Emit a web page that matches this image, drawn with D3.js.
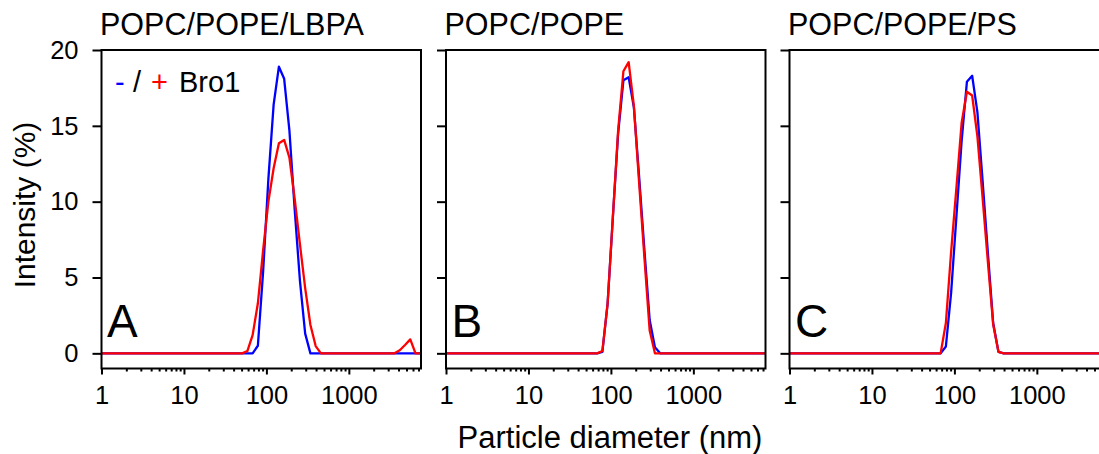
<!DOCTYPE html>
<html lang="en">
<head>
  <meta charset="UTF-8">
  <title>DLS size distributions</title>
  <script src="https://d3js.org/d3.v7.min.js"></script>
  <style>
  body{ margin:0; background:#fff; }
  svg{ display:block; }
  text{ font-family:"Liberation Sans", Arial, sans-serif; fill:#000; }
  .tick line{ stroke:#000; stroke-width:2; }
  .frame{ fill:none; stroke:#000; stroke-width:2; }
  .curve{ fill:none; stroke-width:2.3; stroke-linejoin:round; }
  </style>
</head>
<body>
  <div class="container"></div>
  <script>
  // particle size bins (nm), only the ones needed around the peaks
  var sizes = [0.9649, 50.75, 58.77, 68.06, 78.82, 91.28, 105.7, 122.4, 141.8, 164.2,
               190.1, 220.2, 255, 295.3, 342, 396.1, 458.7, 3091, 3580, 4145,
               4801, 5560, 6439, 7456, 8635];

  var titles = ["POPC/POPE/LBPA", "POPC/POPE", "POPC/POPE/PS"];
  var letters = ["A", "B", "C"];

  // intensity (%) without Bro1 (blue) and with Bro1 (red)
  var minusA = [0,0,0,0,0.5,5.4,11.5,16.4,18.9,18.1,14.7,9.5,4.8,1.3,0,0,0,0,0,0,0,0,0,0,0];
  var plusA  = [0,0,0.15,1.2,3.3,6.8,10.0,12.2,13.85,14.07,12.9,10.2,7.2,4.3,1.87,0.48,0,0,0,0.2,0.55,0.92,0,0,0];
  var minusB = [0,0,0,0,0.1,3.3,9.0,14.5,18.0,18.2,16.2,11.6,6.8,2.2,0.4,0,0,0,0,0,0,0,0,0,0];
  var plusB  = [0,0,0,0,0.15,3.3,9.0,14.7,18.6,19.2,16.3,11.2,6.3,1.5,0,0,0,0,0,0,0,0,0,0,0];
  var minusC = [0,0,0,0,0.45,4.0,9.0,14.0,17.9,18.3,15.9,11.3,6.6,2.0,0.1,0,0,0,0,0,0,0,0,0,0];
  var plusC  = [0,0,0,0,2.0,6.7,10.9,15.2,17.25,17.0,14.3,10.2,6.0,1.9,0.1,0,0,0,0,0,0,0,0,0,0];

  var minusSeries = [minusA, minusB, minusC];
  var plusSeries = [plusA, plusB, plusC];

  var xMajor = [1, 10, 100, 1000];
  var xMinor = [2,3,4,5,6,7,8,9, 20,30,40,50,60,70,80,90, 200,300,400,500,600,700,800,900,
                2000,3000,4000,5000,6000,7000];
  var yTicks = [0, 5, 10, 15, 20];

  var w = 1099, h = 454,
      panelTop = 50, pw = 319.5, ph = 318.5,
      lefts = [101.5, 446, 789.5];

  var xScale = d3.scaleLog().domain([1, 7500]).range([0, pw]);
  var yScale = d3.scaleLinear().domain([-1, 20]).range([ph, 0]);

  var svg = d3.select('.container')
          .append('svg')
          .attr('width', w)
          .attr('height', h);

  svg.append('defs').append('clipPath').attr('id', 'plotclip')
     .append('rect').attr('width', pw).attr('height', ph);

  var line_generator = d3.line()
      .x(function(d, i){ return xScale(sizes[i]) })
      .y(function(d){ return yScale(d) });

  lefts.forEach(function(left, p){
    var g = svg.append('g').attr('transform', 'translate(' + left + ',' + panelTop + ')');

    // x axis: major ticks with labels, minor ticks without
    g.append('g').attr('transform', 'translate(0,' + ph + ')')
      .call(d3.axisBottom(xScale).tickValues(xMajor).tickSize(6).tickPadding(11)
            .tickFormat(d3.format('d')))
      .call(function(a){ a.select('.domain').remove(); })
      .selectAll('text').style('font-size', '25.5px').attr('font-family', null);
    g.append('g').attr('transform', 'translate(0,' + ph + ')')
      .call(d3.axisBottom(xScale).tickValues(xMinor).tickSize(3).tickFormat(''))
      .call(function(a){ a.select('.domain').remove(); });

    // y axis, labels only on the first panel
    var yAxis = d3.axisLeft(yScale).tickValues(yTicks).tickSize(9).tickPadding(14);
    if (p > 0) yAxis.tickFormat('');
    g.append('g')
      .call(yAxis)
      .call(function(a){ a.select('.domain').remove(); })
      .selectAll('text').style('font-size', '25.5px').attr('font-family', null);

    var plot = g.append('g').attr('clip-path', 'url(#plotclip)');
    plot.append('path').attr('class', 'curve')
        .attr('d', line_generator(minusSeries[p])).style('stroke', '#0000ff');
    plot.append('path').attr('class', 'curve')
        .attr('d', line_generator(plusSeries[p])).style('stroke', '#ff0000');

    g.append('rect').attr('class', 'frame').attr('width', pw).attr('height', ph);

    g.append('text').text(titles[p])
      .attr('x', -1.5).attr('y', -15).style('font-size', '30.5px');

    g.append('text').text(letters[p])
      .attr('x', 5.5).attr('y', yScale(1.05)).style('font-size', '46px');
  });

  // legend in panel A
  var leg = svg.append('text').attr('y', 92).style('font-size', '29px');
  leg.append('tspan').attr('x', 115).text('-').style('fill', '#0000ff');
  leg.append('tspan').attr('x', 133).text('/');
  leg.append('tspan').attr('x', 151).text('+').style('fill', '#ff0000');
  leg.append('tspan').attr('x', 179).text('Bro1');

  svg.append('text').text('Particle diameter (nm)')
     .attr('x', 610).attr('y', 448)
     .attr('text-anchor', 'middle').style('font-size', '31px');

  svg.append('text').text('Intensity (%)')
     .attr('transform', 'translate(35,205) rotate(-90)')
     .attr('text-anchor', 'middle').style('font-size', '30px');
  </script>
</body>
</html>
